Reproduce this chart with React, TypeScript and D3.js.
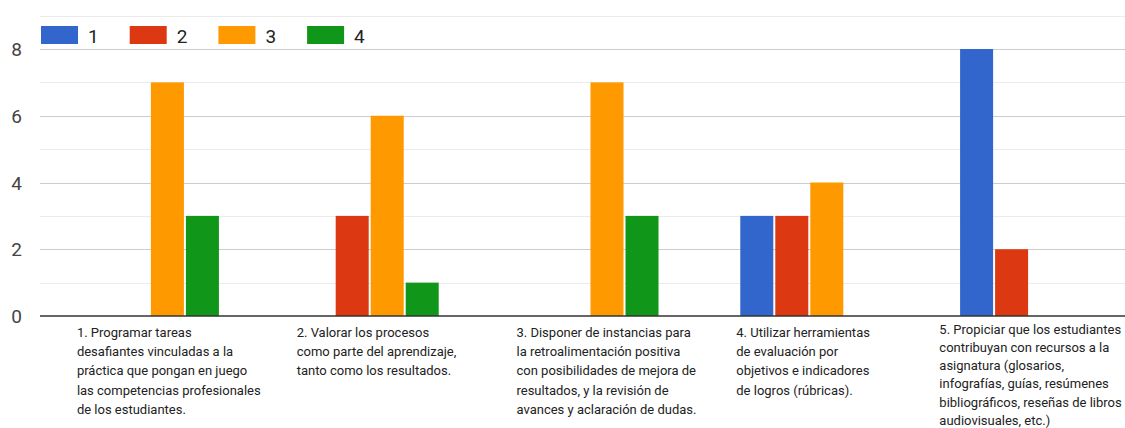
import React, { useEffect, useRef } from "react";
import * as d3 from "d3";

const categories = ["c1", "c2", "c3", "c4", "c5"];
const categoryLabels: string[][] = [
  ["1. Programar tareas", "desafiantes vinculadas a la", "práctica que pongan en juego", "las competencias profesionales", "de los estudiantes."],
  ["2. Valorar los procesos", "como parte del aprendizaje,", "tanto como los resultados."],
  ["3. Disponer de instancias para", "la retroalimentación positiva", "con posibilidades de mejora de", "resultados, y la revisión de", "avances y aclaración de dudas."],
  ["4. Utilizar herramientas", "de evaluación por", "objetivos e indicadores", "de logros (rúbricas)."],
  ["5. Propiciar que los estudiantes", "contribuyan con recursos a la", "asignatura (glosarios,", "infografías, guías, resúmenes", "bibliográficos, reseñas de libros", "audiovisuales, etc.)"],
];
const seriesNames = ["1", "2", "3", "4"];
const series1 = [0, 0, 0, 3, 8];
const series2 = [0, 3, 0, 3, 2];
const series3 = [7, 6, 7, 4, 0];
const series4 = [3, 1, 3, 0, 0];
const yTicks = [0, 2, 4, 6, 8];
const colors = ["#3366cc", "#dc3912", "#ff9900", "#109618"];

const W = 1125;
const H = 428;

export default function App() {
  const ref = useRef<SVGSVGElement>(null);

  useEffect(() => {
    const svg = d3.select(ref.current);
    svg.selectAll("*").remove();
    const allSeries = [series1, series2, series3, series4];
    const font = "Roboto, Arial, sans-serif";

    const plotL = 40;
    const plotR = 1139;
    const y = d3.scaleLinear().domain([0, 8]).range([316, 49]);
    const x0 = d3.scaleBand<string>().domain(categories).range([plotL, plotR]).paddingInner(0.372).paddingOuter(0.186);
    const x1 = d3.scaleBand<string>().domain(seriesNames).range([0, x0.bandwidth()]).paddingInner(0.057);

    // gridlines
    const gridVals = d3.range(1, 10);
    svg.append("g").selectAll("line").data(gridVals).join("line")
      .attr("x1", plotL).attr("x2", W)
      .attr("y1", (d) => Math.round(y(d)) + 0.5).attr("y2", (d) => Math.round(y(d)) + 0.5)
      .attr("stroke", (d) => (d % 2 === 0 ? "#cccccc" : "#ebebeb"))
      .attr("stroke-width", 1);

    // y tick labels
    svg.append("g").selectAll("text").data(yTicks).join("text")
      .attr("x", 22).attr("y", (d) => y(d) + 7)
      .attr("text-anchor", "end")
      .attr("font-family", font).attr("font-size", 19).attr("fill", "#444")
      .text((d) => String(d));

    // bars
    const bars: { cat: string; s: string; v: number; c: string }[] = [];
    categories.forEach((cat, i) => {
      seriesNames.forEach((s, j) => {
        const v = allSeries[j][i];
        if (v > 0) bars.push({ cat, s, v, c: colors[j] });
      });
    });
    svg.append("g").selectAll("rect").data(bars).join("rect")
      .attr("x", (d) => (x0(d.cat) as number) + (x1(d.s) as number))
      .attr("width", x1.bandwidth())
      .attr("y", (d) => y(d.v))
      .attr("height", (d) => y(0) - y(d.v))
      .attr("fill", (d) => d.c);

    // baseline
    svg.append("line")
      .attr("x1", plotL).attr("x2", W)
      .attr("y1", y(0)).attr("y2", y(0))
      .attr("stroke", "#333").attr("stroke-width", 1.5);

    // legend
    const legend = svg.append("g");
    seriesNames.forEach((s, j) => {
      const lx = 41 + j * 88.7;
      legend.append("rect").attr("x", lx).attr("y", 26).attr("width", 37).attr("height", 18).attr("fill", colors[j]);
      legend.append("text").attr("x", lx + 47).attr("y", 43)
        .attr("font-family", font).attr("font-size", 19).attr("fill", "#222").text(s);
    });

    // category labels
    const lg = svg.append("g");
    const baseFirst = 337;
    const baseLH = 19.2;
    const maxLast = 425;
    categories.forEach((cat, i) => {
      const lines = categoryLabels[i];
      const n = lines.length;
      let lh = baseLH;
      let first = baseFirst;
      if (first + (n - 1) * lh > maxLast) {
        lh = 18.3;
        first = maxLast - (n - 1) * lh;
      }
      const t = lg.append("text")
        .attr("font-family", font).attr("font-size", 13).attr("fill", "#222");
      lines.forEach((ln, k) => {
        t.append("tspan").attr("y", first + k * lh).attr("x", 0).text(ln);
      });
      const w = (t.node() as SVGTextElement).getBBox().width;
      const left = Math.min((x0(cat) as number) - 4, W - 3 - w);
      t.selectAll("tspan").attr("x", left);
    });
  }, []);

  return (
    <svg ref={ref} width={W} height={H} style={{ position: "absolute", left: 0, top: 0, background: "#fff" }} />
  );
}
